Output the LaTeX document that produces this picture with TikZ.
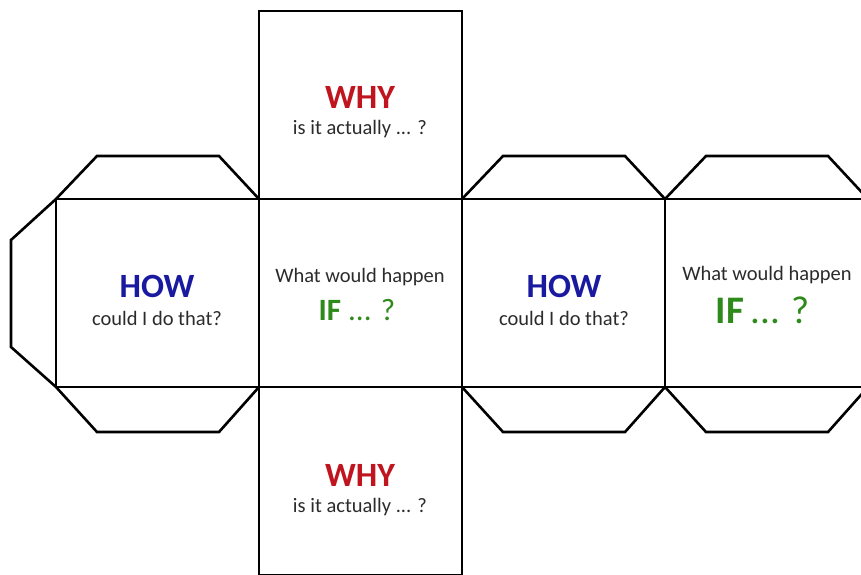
\documentclass[tikz,border=0pt]{standalone}
\usepackage{fontspec}
\setmainfont{Carlito}
\usepackage{tikz}
\usetikzlibrary{positioning}
\definecolor{whyred}  {HTML}{C0141E}
\definecolor{howblue} {HTML}{1A1AA0}
\definecolor{ifgreen} {HTML}{2F8A1C}
\definecolor{textgray}{HTML}{2B2B2B}

\begin{document}
\begin{tikzpicture}[
    x=1pt, y=-1pt,
    face/.style={draw, line width=2.6pt, outer sep=0pt, inner sep=0pt,
                 minimum width=203pt, minimum height=188pt},
    tab/.style={draw, line width=2.6pt, line join=miter},
    head/.style={anchor=base, inner sep=0pt, font=\fontsize{34}{34}\selectfont\bfseries},
    sub/.style={anchor=base, inner sep=0pt, text=textgray,
                font=\fontsize{20.5}{20.5}\selectfont},
  ]
    \useasboundingbox (0,0) rectangle (861,574);
    \clip (0,0) rectangle (861,574);

    % faces of the net
    \node[face] (howA) at (157.5,293) {};
    \node[face, right=0pt of howA] (ifA) {};
    \node[face, right=0pt of ifA] (howB) {};
    \node[face, right=0pt of howB] (ifB) {};
    \node[face, above=0pt of ifA] (whyT) {};
    \node[face, below=0pt of ifA] (whyB) {};

    % glue tabs
    \draw[tab] (howA.north west) -- ++(-45,41) -- ++(0,107) -- (howA.south west);
    \foreach \f in {howA, howB, ifB} {
      \draw[tab] (\f.north west) -- ++(41,-43) -- ++(122,0) -- (\f.north east);
      \draw[tab] (\f.south west) -- ++(41,45) -- ++(122,0) -- (\f.south east);
    }

    % texts
    \node[head, text=whyred] (whyTa) at (360,108) {WHY};
    \node[sub] (whyTb) at (360,134) {is it actually ... ?};

    \node[head, text=whyred] (whyBa) at (360,486) {WHY};
    \node[sub] (whyBb) at (360,512) {is it actually ... ?};

    \node[head, text=howblue] (howAa) at (157,297) {HOW};
    \node[sub] (howAb) at (157,325) {could I do that?};

    \node[head, text=howblue] (howBa) at (564,297) {HOW};
    \node[sub] (howBb) at (564,325) {could I do that?};

    \node[sub] (ifAa) at (360,282) {What would happen};
    \node[anchor=base, inner sep=0pt, text=ifgreen,
          font=\fontsize{31}{31}\selectfont] (ifAb) at (357,320)
      {\textbf{IF} ... ?};

    \node[sub] (ifBa) at (767,280) {What would happen};
    \node[anchor=base, inner sep=0pt, text=ifgreen,
          font=\fontsize{39}{39}\selectfont] (ifBb) at (763,323)
      {\textbf{IF}\,... ?};
  \end{tikzpicture}
\end{document}
